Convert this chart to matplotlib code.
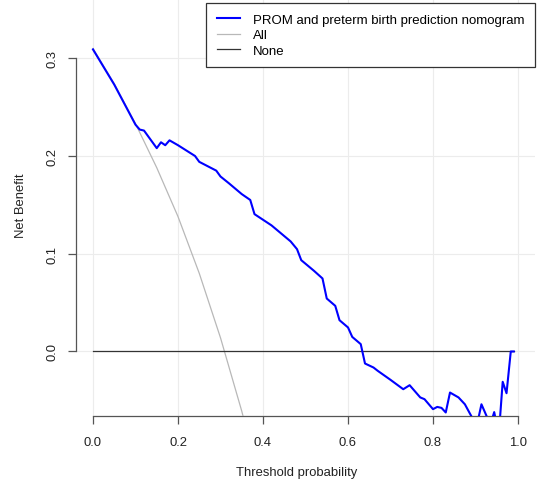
import matplotlib
matplotlib.use("Agg")
import matplotlib.pyplot as plt

plt.rcParams['font.family'] = ['Liberation Sans', 'DejaVu Sans']

# decision curve values
thresholds = [0.00, 0.05, 0.10, 0.11, 0.12, 0.15, 0.16, 0.17, 0.18, 0.20,
              0.24, 0.25, 0.29, 0.30, 0.32, 0.35, 0.37, 0.38, 0.42, 0.465,
              0.48, 0.49, 0.52, 0.54, 0.55, 0.57, 0.58, 0.60, 0.61, 0.63,
              0.64, 0.66, 0.67, 0.70, 0.73, 0.745, 0.77, 0.78, 0.80, 0.81,
              0.82, 0.83, 0.84, 0.86, 0.875, 0.895, 0.905, 0.914, 0.928, 0.935,
              0.944, 0.95, 0.957, 0.964, 0.973, 0.983, 0.99]
nb_model = [0.309, 0.273, 0.232, 0.227, 0.226, 0.208, 0.214, 0.211, 0.216, 0.211,
            0.200, 0.194, 0.185, 0.179, 0.172, 0.161, 0.155, 0.1405, 0.129, 0.1126,
            0.1047, 0.0934, 0.0825, 0.0747, 0.0542, 0.0467, 0.032, 0.0246, 0.0149, 0.0075,
            -0.0123, -0.0164, -0.0198, -0.029, -0.0386, -0.0345, -0.047, -0.0488, -0.059, -0.0567,
            -0.0577, -0.0624, -0.042, -0.047, -0.054, -0.070, -0.072, -0.054, -0.068, -0.075,
            -0.062, -0.075, -0.072, -0.031, -0.0427, 0.0, 0.0]

all_thresholds = [0.00, 0.05, 0.10, 0.15, 0.20, 0.25, 0.30, 0.35, 0.36]
nb_all = [0.31, 0.274, 0.233, 0.188, 0.138, 0.080, 0.014, -0.061, -0.078]

none_thresholds = [0.0, 0.99]
nb_none = [0.0, 0.0]

labels = ['PROM and preterm birth prediction nomogram', 'All', 'None']
xticks = [0.0, 0.2, 0.4, 0.6, 0.8, 1.0]
yticks = [0.0, 0.1, 0.2, 0.3]

W, H = 537, 481
fig = plt.figure(figsize=(W / 100, H / 100), dpi=100)
# plot region in pixels: x 76..535, y -5.3..417
ax = fig.add_axes([76 / W, (H - 417) / H, (535 - 76) / W, (417 + 5.3) / H])
ax.set_xlim(-0.04, 1.04)
ax.set_ylim(-0.066, 0.366)

grid_col = '#ececec'
for x in xticks:
    ax.axvline(x, color=grid_col, lw=0.8, zorder=0)
for y in yticks:
    ax.axhline(y, color=grid_col, lw=0.8, zorder=0)

l1, = ax.plot(thresholds, nb_model, color='#0000ff', lw=1.5, zorder=4)
l2, = ax.plot(all_thresholds, nb_all, color='#b8b8b8', lw=0.9, zorder=3)
l3, = ax.plot(none_thresholds, nb_none, color='#333333', lw=0.9, zorder=3)

for s in ['top', 'right']:
    ax.spines[s].set_visible(False)
ax.spines['left'].set_bounds(0.0, 0.3)
ax.spines['bottom'].set_bounds(0.0, 1.0)
for s in ['left', 'bottom']:
    ax.spines[s].set_color('#555555')
    ax.spines[s].set_linewidth(0.9)

ax.set_xticks(xticks)
ax.set_xticklabels([f'{v:.1f}' for v in xticks])
ax.set_yticks(yticks)
ax.set_yticklabels([f'{v:.1f}' for v in yticks], rotation=90, va='center')
ax.tick_params(axis='both', length=5.8, width=0.9, color='#555555',
               labelsize=9.4, labelcolor='#222222')
ax.tick_params(axis='x', pad=8.5)
ax.tick_params(axis='y', pad=6.5)

fig.text(297 / W, 1 - 472.7 / H, 'Threshold probability', ha='center', va='center',
         fontsize=9.4, color='#222222')
fig.text(20.7 / W, 1 - 205.5 / H, 'Net Benefit', ha='center', va='center',
         rotation=90, fontsize=9.4, color='#222222')

leg = ax.legend([l1, l2, l3], labels, loc='upper right',
                bbox_to_anchor=(535 / W, 1 - 4 / H), bbox_transform=fig.transFigure,
                borderaxespad=0, fancybox=False, framealpha=1, edgecolor='#333333',
                fontsize=9.5, handlelength=1.8, handletextpad=0.95, labelspacing=0.25,
                borderpad=0.8)
leg.get_frame().set_linewidth(0.9)

fig.savefig('out.png', dpi=100)
